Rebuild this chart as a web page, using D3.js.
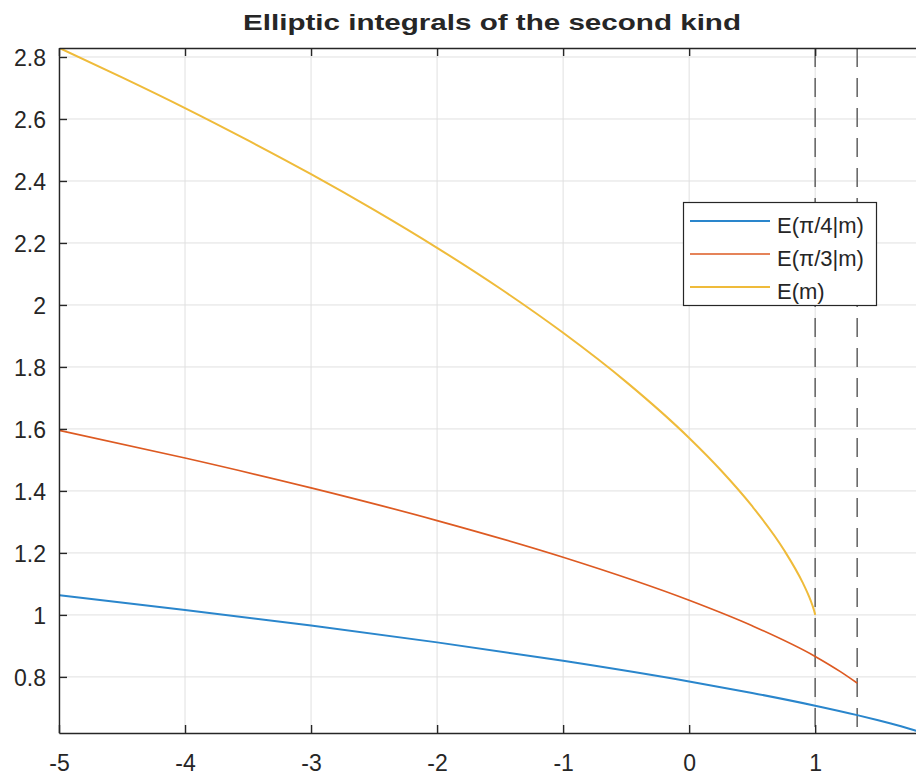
<!DOCTYPE html>
<html>
<head>
<meta charset="utf-8">
<script src="https://cdn.jsdelivr.net/npm/d3@7"></script>
<style>
  html, body { margin: 0; padding: 0; background: #ffffff; }
  svg { display: block; }
  text { font-family: "Liberation Sans", Arial, Helvetica, sans-serif; fill: #262626; }
</style>
</head>
<body>
<svg id="chart" width="916" height="776"></svg>
<script>
// ---- data ----
const titleText = "Elliptic integrals of the second kind";

const mQuarter = [-5, -4, -3, -2, -1, 0, 0.5, 1, 1.3333, 1.5, 1.6, 1.8, 1.9];
const eQuarter = [1.0633, 1.0160, 0.9657, 0.9114, 0.8520, 0.7854, 0.7482, 0.7071, 0.6766, 0.6600, 0.6495, 0.6262, 0.6140];

const mThird = [-5, -4, -3, -2, -1, 0, 0.5, 1, 1.2, 1.3333];
const eThird = [1.5955, 1.5062, 1.4099, 1.3044, 1.1860, 1.0472, 0.9650, 0.8660, 0.8169, 0.780];

const mComplete = [-5, -4.5, -4, -3.5, -3, -2.5, -2, -1.5, -1, -0.5, 0, 0.25, 0.5, 0.75, 0.9, 0.95, 0.98, 0.99, 0.995, 0.999, 1];
const eComplete = [2.8297, 2.7342, 2.6352, 2.5309, 2.4221, 2.3068, 2.1843, 2.0530, 1.9101, 1.7518, 1.5708, 1.4675, 1.3506, 1.2111, 1.1048, 1.0605, 1.0286, 1.0160, 1.0088, 1.0022, 1.0];

const seriesNames = ["E(\u03C0/4|m)", "E(\u03C0/3|m)", "E(m)"];
const seriesColors = ["#2a86cc", "#dd5a22", "#efbb3a"];

const dashedX = [1, 1.3333];

const xTicks = [-5, -4, -3, -2, -1, 0, 1];
const xTickLabels = ["-5", "-4", "-3", "-2", "-1", "0", "1"];
const yTicks = [0.8, 1.0, 1.2, 1.4, 1.6, 1.8, 2.0, 2.2, 2.4, 2.6, 2.8];
const yTickLabels = ["0.8", "1", "1.2", "1.4", "1.6", "1.8", "2", "2.2", "2.4", "2.6", "2.8"];

const xDomain = [-5, 1.8];
const yDomain = [0.619, 2.829];

// ---- layout ----
const plot = { left: 59, right: 916, top: 48, bottom: 733 };

const svg = d3.select("#chart");
const x = d3.scaleLinear().domain(xDomain).range([plot.left, plot.right]);
const y = d3.scaleLinear().domain(yDomain).range([plot.bottom, plot.top]);

svg.append("defs").append("clipPath").attr("id", "clip")
  .append("rect")
  .attr("x", plot.left).attr("y", plot.top)
  .attr("width", plot.right - plot.left).attr("height", plot.bottom - plot.top);

// grid
const grid = svg.append("g");
grid.selectAll(".gx").data(xTicks).enter().append("line")
  .attr("x1", d => x(d)).attr("x2", d => x(d))
  .attr("y1", plot.top).attr("y2", plot.bottom)
  .attr("stroke", "#e0e0e0").attr("stroke-width", 1);
grid.selectAll(".gy").data(yTicks).enter().append("line")
  .attr("x1", plot.left).attr("x2", plot.right)
  .attr("y1", d => y(d)).attr("y2", d => y(d))
  .attr("stroke", "#e0e0e0").attr("stroke-width", 1);

// dashed reference lines
svg.append("g").selectAll("line").data(dashedX).enter().append("line")
  .attr("x1", d => x(d)).attr("x2", d => x(d))
  .attr("y1", plot.top).attr("y2", plot.bottom)
  .attr("stroke", "#6a6a6a").attr("stroke-width", 1.6)
  .attr("stroke-dasharray", "19,11");

// curves
const series = [
  { m: mQuarter, e: eQuarter, w: 2.0 },
  { m: mThird, e: eThird, w: 1.7 },
  { m: mComplete, e: eComplete, w: 2.0 }
];
const line = d3.line().x(d => x(d[0])).y(d => y(d[1])).curve(d3.curveMonotoneX);
const curves = svg.append("g").attr("clip-path", "url(#clip)");
series.forEach((s, i) => {
  curves.append("path")
    .datum(s.m.map((mv, j) => [mv, s.e[j]]))
    .attr("d", line)
    .attr("fill", "none")
    .attr("stroke", seriesColors[i])
    .attr("stroke-width", s.w)
    .attr("stroke-linejoin", "round");
});

// axes
const axisColor = "#262626";
const xAxis = d3.axisBottom(x).tickValues(xTicks).tickSizeInner(-8).tickSizeOuter(0)
  .tickFormat((d, i) => xTickLabels[i]);
const gx = svg.append("g").attr("transform", `translate(0,${plot.bottom})`).call(xAxis);
const xTop = d3.axisTop(x).tickValues(xTicks).tickSizeInner(-8).tickSizeOuter(0).tickFormat("");
const gxt = svg.append("g").attr("transform", `translate(0,${plot.top})`).call(xTop);
const yAxis = d3.axisLeft(y).tickValues(yTicks).tickSizeInner(-8).tickSizeOuter(0)
  .tickFormat((d, i) => yTickLabels[i]);
const gy = svg.append("g").attr("transform", `translate(${plot.left},0)`).call(yAxis);

[gx, gxt, gy].forEach(g => {
  g.select(".domain").attr("stroke", axisColor).attr("stroke-width", 1.4);
  g.selectAll(".tick line").attr("stroke", axisColor).attr("stroke-width", 1.4);
  g.selectAll(".tick text").attr("fill", axisColor).style("font-size", "23px")
    .style("font-family", "'Liberation Sans', Arial, Helvetica, sans-serif");
});
gx.selectAll(".tick text").attr("dy", "0.71em").attr("y", 22);
gy.selectAll(".tick text").attr("x", -13).attr("dy", "0.36em");

// title
svg.append("text")
  .attr("x", 492).attr("y", 30)
  .attr("text-anchor", "middle")
  .style("font-size", "22px").style("font-weight", "bold")
  .attr("fill", "#000")
  .attr("textLength", 498).attr("lengthAdjust", "spacingAndGlyphs")
  .text(titleText);

// legend
const leg = svg.append("g");
leg.append("rect")
  .attr("x", 683.5).attr("y", 202.5).attr("width", 193).attr("height", 103)
  .attr("fill", "#fff").attr("stroke", axisColor).attr("stroke-width", 1.2);
const legRows = [221, 254, 287];
seriesNames.forEach((name, i) => {
  leg.append("line")
    .attr("x1", 690).attr("x2", 770).attr("y1", legRows[i]).attr("y2", legRows[i])
    .attr("stroke", seriesColors[i]).attr("stroke-width", series[i].w);
  leg.append("text")
    .attr("x", 777).attr("y", legRows[i] + 12)
    .style("font-size", "22px")
    .attr("fill", axisColor)
    .text(name);
});
</script>
</body>
</html>
